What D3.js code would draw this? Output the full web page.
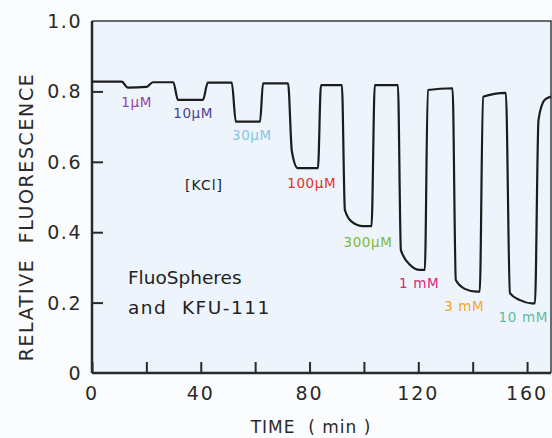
<!DOCTYPE html>
<html>
<head>
<meta charset="utf-8">
<script src="https://cdn.jsdelivr.net/npm/d3@7"></script>
<style>
  html, body { margin: 0; padding: 0; background: #fbfcfd; }
  svg { display: block; }
  text { font-family: "DejaVu Sans", "Noto Sans", sans-serif; }
</style>
</head>
<body>
<svg id="chart" width="552" height="438"></svg>
<script>
// ---- data ----
const time = [0, 10.9, 13.2, 20.1, 22.4, 29.9, 31.6, 40.8, 42.6, 51.4, 52.9, 61.8, 62.9, 72.1, 73.5, 75.7, 83.1, 84.2, 91.9, 93.0, 95.6, 99.6, 102.8, 104.0, 112.5, 113.6, 117.0, 120.6, 122.4, 123.5, 132.6, 133.8, 137.1, 141.4, 142.6, 143.8, 152.2, 153.7, 157.4, 161.7, 162.9, 164.2, 166.5, 168.8];
const fluorescence = [0.828, 0.828, 0.811, 0.813, 0.826, 0.826, 0.776, 0.776, 0.825, 0.825, 0.714, 0.714, 0.823, 0.823, 0.63, 0.582, 0.582, 0.818, 0.818, 0.463, 0.429, 0.417, 0.417, 0.818, 0.818, 0.349, 0.307, 0.293, 0.293, 0.804, 0.809, 0.264, 0.239, 0.231, 0.231, 0.785, 0.796, 0.227, 0.207, 0.198, 0.198, 0.719, 0.776, 0.785];

const concLabels = ["1µM", "10µM", "30µM", "100µM", "300µM", "1 mM", "3 mM", "10 mM"];
const concColors = ["#9a3f9e", "#4b3f98", "#86c7e3", "#e3321f", "#7fb83a", "#d8287c", "#f4a72c", "#5fbba3"];
const concLabelTime = [16.4, 37.2, 58.8, 80.8, 101.5, 120.3, 136.9, 158.6];
const concLabelValue = [0.771, 0.740, 0.676, 0.540, 0.373, 0.257, 0.190, 0.160];

const xTicks = [0, 20, 40, 60, 80, 100, 120, 140, 160];
const xTickLabels = [0, 40, 80, 120, 160];
const yTicks = [0, 0.2, 0.4, 0.6, 0.8, 1.0];
const yTickLabels = ["0", "0.2", "0.4", "0.6", "0.8", "1.0"];

// ---- layout ----
const svg = d3.select("#chart");
const mLeft = 92, mRight = 551, mTop = 21, mBottom = 373;
const x = d3.scaleLinear().domain([0, 168.8]).range([mLeft, mRight]);
const y = d3.scaleLinear().domain([0, 1]).range([mBottom, mTop]);

svg.append("rect").attr("x", mLeft).attr("y", mTop)
  .attr("width", mRight - mLeft).attr("height", mBottom - mTop)
  .attr("fill", "#edf4fb");

// frame
svg.append("path")
  .attr("d", `M${mLeft},${mTop}H${mRight}V${mBottom}`)
  .attr("fill", "none").attr("stroke", "#3a3a3a").attr("stroke-width", 1.5);

// axes
const xAxis = d3.axisBottom(x).tickValues(xTicks).tickSize(-11).tickFormat("");
const gx = svg.append("g").attr("transform", `translate(0,${mBottom})`).call(xAxis);
const yAxis = d3.axisLeft(y).tickValues(yTicks.slice(1, 5)).tickSize(-11).tickFormat("");
const gy = svg.append("g").attr("transform", `translate(${mLeft},0)`).call(yAxis);
[gx, gy].forEach(g => {
  g.select(".domain").attr("stroke", "#2a2a2a").attr("stroke-width", 2.5);
  g.selectAll(".tick line").attr("stroke", "#2a2a2a").attr("stroke-width", 2);
});
gx.select(".domain").attr("d", `M${mLeft},0H${mRight}`);
gy.select(".domain").attr("d", `M0,${mTop}V${mBottom}`);

// tick labels
svg.append("g").selectAll("text").data(xTickLabels).join("text")
  .attr("x", d => x(d)).attr("y", 400)
  .attr("text-anchor", "middle")
  .attr("font-size", 19).attr("letter-spacing", 2).attr("fill", "#2a2a2a")
  .text(d => d);
svg.append("g").selectAll("text").data(yTicks).join("text")
  .attr("x", 82).attr("y", d => y(d) + 7)
  .attr("text-anchor", "end")
  .attr("font-size", 19).attr("letter-spacing", 1.5).attr("fill", "#2a2a2a")
  .text((d, i) => yTickLabels[i]);

// axis titles
svg.append("text").attr("x", 311).attr("y", 433)
  .attr("text-anchor", "middle").attr("font-size", 17).attr("letter-spacing", 1)
  .attr("fill", "#2a2a2a").attr("xml:space", "preserve")
  .text("TIME  ( min )");
svg.append("text")
  .attr("transform", "translate(33,217) rotate(-90)")
  .attr("text-anchor", "middle").attr("font-size", 19).attr("letter-spacing", 1.6)
  .attr("fill", "#2a2a2a").attr("xml:space", "preserve")
  .text("RELATIVE  FLUORESCENCE");

// curve
const line = d3.line()
  .x((d, i) => x(time[i]))
  .y(d => y(d))
  .curve(d3.curveMonotoneX);
svg.append("path").datum(fluorescence)
  .attr("d", line)
  .attr("fill", "none").attr("stroke", "#1c1c1c").attr("stroke-width", 2.2)
  .attr("stroke-linejoin", "round");

// concentration labels
svg.append("g").selectAll("text").data(concLabels).join("text")
  .attr("x", (d, i) => x(concLabelTime[i]))
  .attr("y", (d, i) => y(concLabelValue[i]) + 5)
  .attr("text-anchor", "middle").attr("font-size", 13.5).attr("letter-spacing", 0.6)
  .attr("fill", (d, i) => concColors[i])
  .text(d => d);

svg.append("text").attr("x", x(41.2)).attr("y", y(0.534) + 5)
  .attr("text-anchor", "middle").attr("font-size", 14).attr("letter-spacing", 1)
  .attr("fill", "#222")
  .text("[KCl]");

svg.append("text").attr("x", x(13.2)).attr("y", y(0.273) + 7)
  .attr("font-size", 18.5).attr("fill", "#222").text("FluoSpheres");
svg.append("text").attr("x", x(13.2)).attr("y", y(0.1875) + 7)
  .attr("font-size", 18.5).attr("letter-spacing", 1.5).attr("fill", "#222").attr("xml:space", "preserve")
  .text("and  KFU-111");
</script>
</body>
</html>
